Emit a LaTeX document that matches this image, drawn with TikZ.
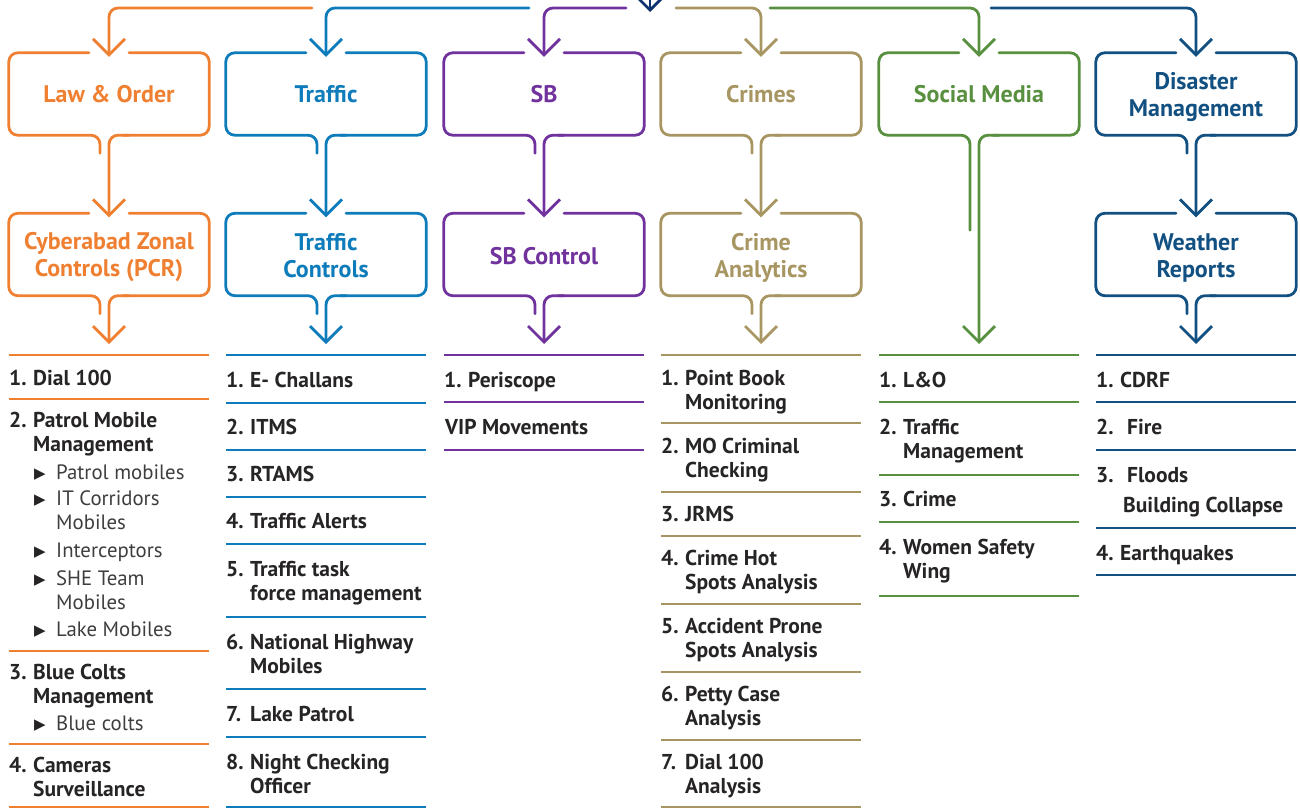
\documentclass[tikz,border=0pt]{standalone}
\usepackage{fontspec}
\setmainfont{PT Sans}
\newfontfamily\symfont{DejaVu Sans}
\usetikzlibrary{arrows.meta, calc}
\definecolor{lawcol}{RGB}{239,128,50}
\definecolor{trafcol}{RGB}{14,124,186}
\definecolor{sbcol}{RGB}{112,50,156}
\definecolor{crimecol}{RGB}{168,150,98}
\definecolor{socialcol}{RGB}{88,144,64}
\definecolor{disastercol}{RGB}{18,80,130}
\definecolor{rootcol}{RGB}{15,50,110}
\definecolor{itemcol}{RGB}{38,36,36}
\definecolor{subcol}{RGB}{62,62,62}

\tikzset{
  flow/.style={line width=2.8pt, rounded corners=9pt, line cap=round, line join=round},
  tip/.style={-{Straight Barb[length=16pt, width=32pt]}},
  cat/.style={minimum width=200pt, minimum height=82pt, inner sep=0pt},
  cattxt/.style={inner sep=0pt, align=center, font=\bfseries\fontsize{24}{27}\selectfont},
  itemtxt/.style={inner sep=0pt, text=itemcol, font=\bfseries\fontsize{21.5}{24.8}\selectfont},
  subtxt/.style={inner sep=0pt, text=subcol, font=\fontsize{20.8}{24.8}\selectfont},
  toprule/.style={line width=2.6pt},
  midrule/.style={line width=1.2pt}
}

% box outline with the short stub under it
\newcommand\frameit[3]{%
  \draw[flow, #2] ($(#1.north)+(20,0)$) -- (#1.north east) -- (#1.south east) -- ($(#1.south)+(14,0)$);
  \draw[flow, #2] ($(#1.north)+(-20,0)$) -- (#1.north west) -- (#1.south west)
    -- ($(#1.south)+(-9,0)$) -- ($(#1.south)+(-9,#3)$);
}
\newcommand\twol[2]{\vtop{\hbox{\strut #1}\hbox{\strut #2}}}
\newcommand\entry[5]{%
  \node[itemtxt, anchor=base west] (#1-n) at (#2,#3) {#4};
  \node[itemtxt, anchor=base west] (#1) at (#2+24,#3) {#5};
}
\newcommand\subentry[4]{%
  \node[subtxt, text=itemcol, anchor=base west] (#1-b) at (#2+25,#3-0.5) {\symfont\fontsize{15}{15}\selectfont ▶};
  \node[subtxt, anchor=base west] (#1) at (#2+47,#3) {#4};
}

\begin{document}
\begin{tikzpicture}[x=1pt, y=-1pt]
\useasboundingbox (0,0) rectangle (1300,809);
\clip (0,0) rectangle (1300,809);

% categories
\node[cat] (lo1) at (109,94) {};
\node[cat] (lo2) at (109,254.5) {};
\node[cat] (tr1) at (326,94) {};
\node[cat] (tr2) at (326,254.5) {};
\node[cat] (sb1) at (544,94) {};
\node[cat] (sb2) at (544,254.5) {};
\node[cat] (cr1) at (761,94) {};
\node[cat] (cr2) at (761,254.5) {};
\node[cat] (sm1) at (979,94) {};
\node[cat] (dm1) at (1196,94) {};
\node[cat] (dm2) at (1196,254.5) {};

\node[cattxt, text=lawcol] (lo1-t) at (lo1) {Law \& Order};
\node[cattxt, text=lawcol] (lo2-t) at ($(lo2)+(0,2.5)$) {Cyberabad Zonal\\Controls (PCR)};
\node[cattxt, text=trafcol] (tr1-t) at (tr1) {Traffic};
\node[cattxt, text=trafcol] (tr2-t) at ($(tr2)+(0,1.5)$) {Traffic\\Controls};
\node[cattxt, text=sbcol] (sb1-t) at (sb1) {SB};
\node[cattxt, text=sbcol] (sb2-t) at ($(sb2)+(0,1.5)$) {SB Control};
\node[cattxt, text=crimecol] (cr1-t) at (cr1) {Crimes};
\node[cattxt, text=crimecol] (cr2-t) at ($(cr2)+(0,3)$) {Crime\\Analytics};
\node[cattxt, text=socialcol] (sm1-t) at (sm1) {Social Media};
\node[cattxt, text=disastercol] (dm1-t) at ($(dm1)+(0,3)$) {Disaster\\Management};
\node[cattxt, text=disastercol] (dm2-t) at ($(dm2)+(0,3)$) {Weather\\Reports};

\frameit{lo1}{lawcol}{18}
\frameit{lo2}{lawcol}{18}
\frameit{tr1}{trafcol}{18}
\frameit{tr2}{trafcol}{18}
\frameit{sb1}{sbcol}{18}
\frameit{sb2}{sbcol}{18}
\frameit{cr1}{crimecol}{18}
\frameit{cr2}{crimecol}{18}
\frameit{sm1}{socialcol}{95}
\frameit{dm1}{disastercol}{18}
\frameit{dm2}{disastercol}{18}

% feed from the top
\coordinate (feed) at (650,-40);
\coordinate (hub) at (650,12);
\draw[flow, tip, rootcol] (feed) -- (hub);
\coordinate (lo-in) at (312,8);
\coordinate (tr-in) at (529,8);
\coordinate (sb-in) at (626,8);
\coordinate (cr-in) at (676,8);
\coordinate (sm-in) at (770,8);
\coordinate (dm-in) at (991,8);
\draw[flow, tip, lawcol] (lo-in) -| ($(lo1.north)+(0,4)$);
\draw[flow, tip, trafcol] (tr-in) -| ($(tr1.north)+(0,4)$);
\draw[flow, tip, sbcol] (sb-in) -| ($(sb1.north)+(0,4)$);
\draw[flow, tip, crimecol] (cr-in) -| ($(cr1.north)+(0,4)$);
\draw[flow, tip, socialcol] (sm-in) -| ($(sm1.north)+(0,4)$);
\draw[flow, tip, disastercol] (dm-in) -| ($(dm1.north)+(0,4)$);

% lists
\coordinate (lo-list) at (109,355);
\coordinate (tr-list) at (326,355);
\coordinate (sb-list) at (544,355);
\coordinate (cr-list) at (761,355);
\coordinate (sm-list) at (979,355);
\coordinate (dm-list) at (1196,355);

% first row to second row
\draw[flow, tip, lawcol] ($(lo1.south)+(20,0)$) -- (lo1.south) -- ($(lo2.north)+(0,4)$);
\draw[flow, tip, trafcol] ($(tr1.south)+(20,0)$) -- (tr1.south) -- ($(tr2.north)+(0,4)$);
\draw[flow, tip, sbcol] ($(sb1.south)+(20,0)$) -- (sb1.south) -- ($(sb2.north)+(0,4)$);
\draw[flow, tip, crimecol] ($(cr1.south)+(20,0)$) -- (cr1.south) -- ($(cr2.north)+(0,4)$);
\draw[flow, tip, disastercol] ($(dm1.south)+(20,0)$) -- (dm1.south) -- ($(dm2.north)+(0,4)$);
% second row to the lists
\draw[flow, tip, lawcol] ($(lo2.south)+(20,0)$) -- (lo2.south) -- ($(lo-list)+(0,-11)$);
\draw[flow, tip, trafcol] ($(tr2.south)+(20,0)$) -- (tr2.south) -- ($(tr-list)+(0,-11)$);
\draw[flow, tip, sbcol] ($(sb2.south)+(20,0)$) -- (sb2.south) -- ($(sb-list)+(0,-11)$);
\draw[flow, tip, crimecol] ($(cr2.south)+(20,0)$) -- (cr2.south) -- ($(cr-list)+(0,-11)$);
\draw[flow, tip, socialcol] ($(sm1.south)+(20,0)$) -- (sm1.south) -- ($(sm-list)+(0,-11)$);
\draw[flow, tip, disastercol] ($(dm2.south)+(20,0)$) -- (dm2.south) -- ($(dm-list)+(0,-11)$);

% rules
\draw[toprule, lawcol] (9,355) -- (209,355);
\foreach \y in {399,651,744} \draw[midrule, lawcol] (9,\y) -- (209,\y);
\draw[toprule, lawcol] (9,807) -- (209,807);
\draw[toprule, trafcol] (226,355) -- (426,355);
\foreach \y in {403,450,497,544,617,689,737} \draw[midrule, trafcol] (226,\y) -- (426,\y);
\draw[toprule, trafcol] (226,807) -- (426,807);
\draw[toprule, sbcol] (444,355) -- (644,355);
\draw[midrule, sbcol] (444,402) -- (644,402);
\draw[toprule, sbcol] (444,450) -- (644,450);
\draw[toprule, crimecol] (661,355) -- (861,355);
\foreach \y in {423,492,536,604,672,740} \draw[midrule, crimecol] (661,\y) -- (861,\y);
\draw[toprule, crimecol] (661,807) -- (861,807);
\draw[toprule, socialcol] (879,355) -- (1079,355);
\foreach \y in {402,475,522} \draw[midrule, socialcol] (879,\y) -- (1079,\y);
\draw[toprule, socialcol] (879,596) -- (1079,596);
\draw[toprule, disastercol] (1096,355) -- (1296,355);
\foreach \y in {402,450,528} \draw[midrule, disastercol] (1096,\y) -- (1296,\y);
\draw[toprule, disastercol] (1096,575) -- (1296,575);

% Law & Order items
\entry{lo-a}{9}{385}{1.}{Dial 100}
\entry{lo-b}{9}{427}{2.}{\twol{Patrol Mobile}{Management}}
\subentry{lo-b1}{9}{479}{Patrol mobiles}
\subentry{lo-b2}{9}{505}{\twol{IT Corridors}{Mobiles}}
\subentry{lo-b3}{9}{557}{Interceptors}
\subentry{lo-b4}{9}{585}{\twol{SHE Team}{Mobiles}}
\subentry{lo-b5}{9}{636}{Lake Mobiles}
\entry{lo-c}{9}{679}{3.}{\twol{Blue Colts}{Management}}
\subentry{lo-c1}{9}{730}{Blue colts}
\entry{lo-d}{9}{772}{4.}{\twol{Cameras}{Surveillance}}

% Traffic items
\entry{tr-a}{226}{387}{1.}{E- Challans}
\entry{tr-b}{226}{434}{2.}{ITMS}
\entry{tr-c}{226}{481}{3.}{RTAMS}
\entry{tr-d}{226}{528}{4.}{Traffic Alerts}
\entry{tr-e}{226}{576}{5.}{\twol{Traffic task}{force management}}
\entry{tr-f}{226}{649}{6.}{\twol{National Highway}{Mobiles}}
\entry{tr-g}{226}{721}{7.}{Lake Patrol}
\entry{tr-h}{226}{769}{8.}{\twol{Night Checking}{Officer}}

% SB items
\entry{sb-a}{444}{387}{1.}{Periscope}
\node[itemtxt, anchor=base west] (sb-b) at (445,434) {VIP Movements};

% Crimes items
\entry{cr-a}{661}{385}{1.}{\twol{Point Book}{Monitoring}}
\entry{cr-b}{661}{453}{2.}{\twol{MO Criminal}{Checking}}
\entry{cr-c}{661}{521}{3.}{JRMS}
\entry{cr-d}{661}{565}{4.}{\twol{Crime Hot}{Spots Analysis}}
\entry{cr-e}{661}{633}{5.}{\twol{Accident Prone}{Spots Analysis}}
\entry{cr-f}{661}{701}{6.}{\twol{Petty Case}{Analysis}}
\entry{cr-g}{661}{769}{7.}{\twol{Dial 100}{Analysis}}

% Social Media items
\entry{sm-a}{879}{387}{1.}{L\&O}
\entry{sm-b}{879}{434}{2.}{\twol{Traffic}{Management}}
\entry{sm-c}{879}{506}{3.}{Crime}
\entry{sm-d}{879}{554}{4.}{\twol{Women Safety}{Wing}}

% Disaster items
\entry{dm-a}{1096}{387}{1.}{CDRF}
\node[itemtxt, anchor=base west] (dm-b-n) at (1096,434) {2.};
\node[itemtxt, anchor=base west] (dm-b) at (1127,434) {Fire};
\node[itemtxt, anchor=base west] (dm-c-n) at (1096,482) {3.};
\node[itemtxt, anchor=base west] (dm-c) at (1127,482) {Floods};
\node[itemtxt, anchor=base west] (dm-c2) at (1123,512) {Building Collapse};
\entry{dm-d}{1096}{560}{4.}{Earthquakes}
\end{tikzpicture}
\end{document}
